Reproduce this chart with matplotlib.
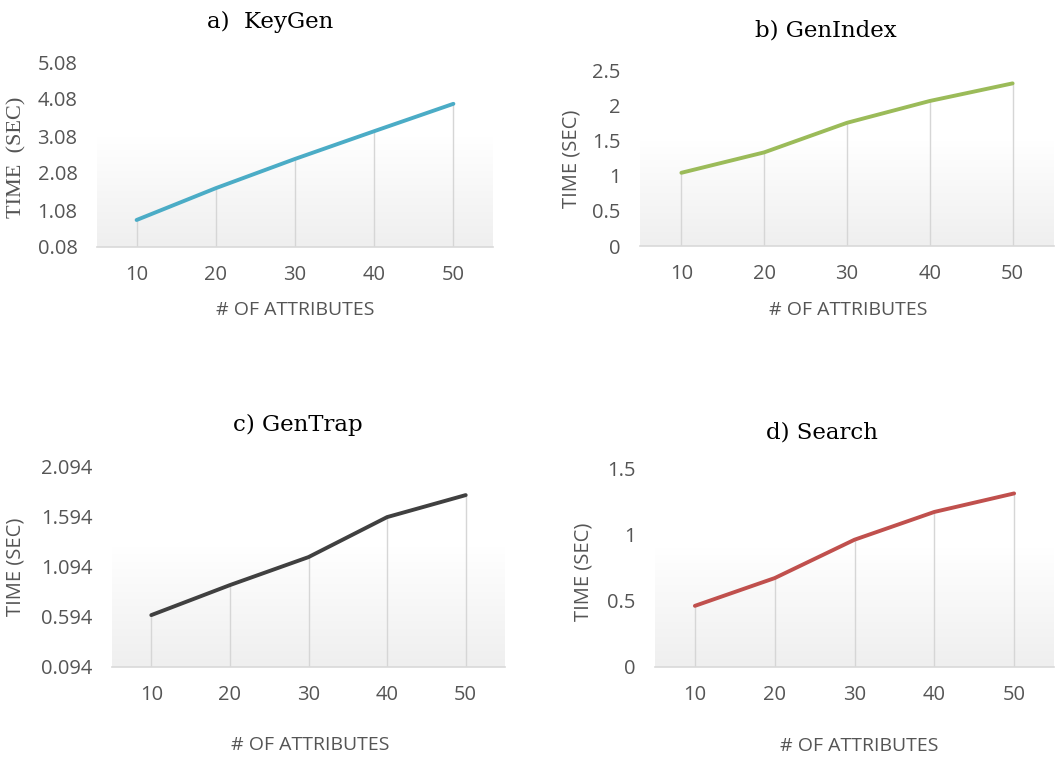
import numpy as np
import matplotlib
matplotlib.use("Agg")
import matplotlib.pyplot as plt
from matplotlib.colors import LinearSegmentedColormap

# ---- data ----
attributes = [10, 20, 30, 40, 50]
keygen = [0.81, 1.67, 2.46, 3.21, 3.95]
genindex = [1.04, 1.33, 1.75, 2.06, 2.31]
gentrap = [0.61, 0.91, 1.19, 1.59, 1.81]
search = [0.46, 0.67, 0.96, 1.17, 1.31]

keygen_ticks = [0.08, 1.08, 2.08, 3.08, 4.08, 5.08]
genindex_ticks = [0, 0.5, 1, 1.5, 2, 2.5]
gentrap_ticks = [0.094, 0.594, 1.094, 1.594, 2.094]
search_ticks = [0, 0.5, 1, 1.5]

titles = ["a)  KeyGen", "b) GenIndex", "c) GenTrap", "d) Search"]
ylabels = ["TIME  (SEC)", "TIME (SEC)", "TIME (SEC)", "TIME (SEC)"]
xlabel = "# OF ATTRIBUTES"

W, H = 1056, 757
fig = plt.figure(figsize=(W / 100, H / 100), dpi=100)
fig.patch.set_facecolor("white")

SANS = ["Open Sans", "DejaVu Sans"]
SERIF = ["DejaVu Serif", "Liberation Serif"]
TXT = "#555555"

def px(x, y):
    return x / W, 1 - y / H

panels = [
    dict(box=(97, 493, 62, 247), data=keygen, ticks=keygen_ticks,
         labels=["%.2f" % t for t in keygen_ticks], color="#4BACC6",
         title=(270, 22), ylab=(17, 157), xlab=(295, 310), yfont=["Liberation Serif"], ysize=16),
    dict(box=(640, 1054, 70, 246), data=genindex, ticks=genindex_ticks,
         labels=["0", "0.5", "1", "1.5", "2", "2.5"], color="#9BBB59",
         title=(826, 30), ylab=(571, 159), xlab=(848, 310), yfont=SANS, ysize=14.5),
    dict(box=(112, 505, 466.7, 666.7), data=gentrap, ticks=gentrap_ticks,
         labels=["%.3f" % t for t in gentrap_ticks], color="#404040",
         title=(298, 425), ylab=(16, 567), xlab=(310, 745), yfont=SANS, ysize=14.5),
    dict(box=(655, 1054, 468.3, 666.7), data=search, ticks=search_ticks,
         labels=["0", "0.5", "1", "1.5"], color="#C0504D",
         title=(822, 432), ylab=(583, 572), xlab=(859, 746), yfont=SANS, ysize=14.5),
]

grad_cmap = LinearSegmentedColormap.from_list("g", ["#ffffff", "#efefef"])

for i, p in enumerate(panels):
    l, r, t, b = p["box"]
    ax = fig.add_axes([l / W, 1 - b / H, (r - l) / W, (b - t) / H])
    ymin, ymax = p["ticks"][0], p["ticks"][-1]
    ax.set_xlim(5, 55)
    ax.set_ylim(ymin, ymax)
    # gradient background in lower part of the plot area (white top -> grey bottom)
    gtop = ymin + 0.6 * (ymax - ymin)
    grad = np.linspace(0, 1, 100).reshape(-1, 1)
    ax.imshow(grad, extent=[5, 55, ymin, gtop], aspect="auto",
              cmap=grad_cmap, vmin=0, vmax=1, zorder=0, origin="upper")
    ax.vlines(attributes, ymin, p["data"], color="#d6d6d6", lw=1.0, zorder=1)
    ax.plot(attributes, p["data"], color=p["color"], lw=2.8, zorder=3,
            solid_capstyle="round")
    for s in ["top", "right", "left"]:
        ax.spines[s].set_visible(False)
    ax.spines["bottom"].set_color("#d9d9d9")
    ax.spines["bottom"].set_linewidth(1.2)
    ax.set_facecolor("none")
    ax.set_xticks(attributes)
    ax.set_xticklabels([str(a) for a in attributes], fontfamily=SANS,
                       fontsize=14.5, color=TXT)
    ax.set_yticks(p["ticks"])
    ax.set_yticklabels(p["labels"], fontfamily=SANS, fontsize=14.5, color=TXT)
    ax.tick_params(axis="both", length=0)
    ax.tick_params(axis="x", pad=13)
    ax.tick_params(axis="y", pad=14)
    ax.set_ylim(ymin, ymax)

    tx, ty = px(*p["title"])
    fig.text(tx, ty, titles[i], ha="center", va="center", fontsize=16.5,
             family=SERIF, color="#000000")
    yx, yy = px(*p["ylab"])
    fig.text(yx, yy, ylabels[i], ha="center", va="center", rotation=90,
             fontsize=p["ysize"], family=p["yfont"], color=TXT)
    xx, xy = px(*p["xlab"])
    fig.text(xx, xy, xlabel, ha="center", va="center", fontsize=14,
             family=SANS, color=TXT)

fig.savefig("out.png", dpi=100, facecolor="white")
